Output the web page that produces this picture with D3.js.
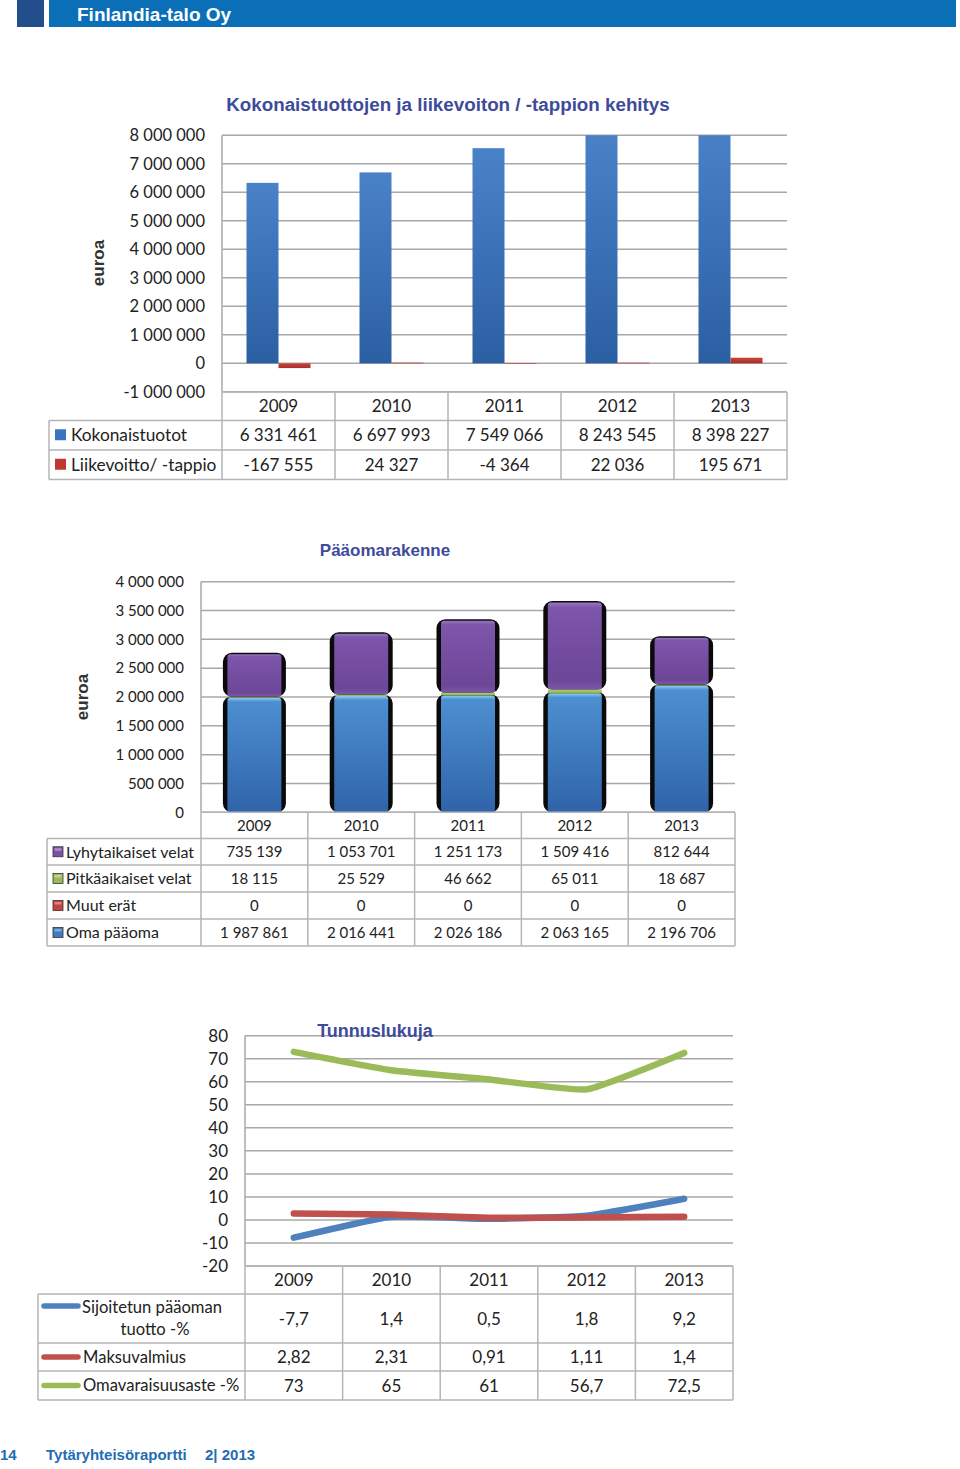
<!DOCTYPE html>
<html><head><meta charset="utf-8">
<script src="https://cdn.jsdelivr.net/npm/d3@7"></script>
<style>body{margin:0;background:#fff}svg{display:block}</style>
</head><body><svg id="c" width="960" height="1469"></svg>
<script>
// ---------- DATA ----------
const years = ["2009", "2010", "2011", "2012", "2013"];
// Chart 1
const kokonaistuotot = [6331461, 6697993, 7549066, 8243545, 8398227];
const liikevoitto = [-167555, 24327, -4364, 22036, 195671];
const ticks1 = [-1000000, 0, 1000000, 2000000, 3000000, 4000000, 5000000, 6000000, 7000000, 8000000];
// Chart 2
const lyhytaikaiset = [735139, 1053701, 1251173, 1509416, 812644];
const pitkaaikaiset = [18115, 25529, 46662, 65011, 18687];
const muutErat = [0, 0, 0, 0, 0];
const omaPaaoma = [1987861, 2016441, 2026186, 2063165, 2196706];
const ticks2 = [0, 500000, 1000000, 1500000, 2000000, 2500000, 3000000, 3500000, 4000000];
// Chart 3
const sijoitetun = [-7.7, 1.4, 0.5, 1.8, 9.2];
const maksuvalmius = [2.82, 2.31, 0.91, 1.11, 1.4];
const omavaraisuus = [73, 65, 61, 56.7, 72.5];
const ticks3 = [-20, -10, 0, 10, 20, 30, 40, 50, 60, 70, 80];

// ---------- SETUP ----------
const svg = d3.select("#c");
const loc = d3.formatLocale({decimal: ",", thousands: " ", grouping: [3], currency: ["", " €"], minus: "-"});
const fmtInt = loc.format(",d");
const fmtDec = v => String(v).replace(".", ",");
const FONT = "Lato, 'Open Sans', sans-serif";
const TFONT = "'Liberation Sans', Arial, sans-serif";
const GRID = "#a8a8a8", BORDER = "#b5b5b5", TXT = "#222";
const TITLE = "#3e4b9b";

const defs = svg.append("defs");
function vgrad(id, stops) {
  const g = defs.append("linearGradient").attr("id", id).attr("x1", 0).attr("y1", 0).attr("x2", 0).attr("y2", 1);
  stops.forEach(s => g.append("stop").attr("offset", s[0]).attr("stop-color", s[1]));
}
vgrad("gBlue1", [[0, "#4a82c8"], [1, "#2b5fa3"]]);
vgrad("gRed1", [[0, "#c8433a"], [1, "#a8302a"]]);
vgrad("gPurple", [[0, "#9676c0"], [0.06, "#7d55ab"], [0.9, "#6c4697"], [1, "#7b5aa6"]]);
vgrad("gBlue2", [[0, "#8fd0f4"], [0.035, "#4d8fd0"], [1, "#2f63aa"]]);
vgrad("gGreen", [[0, "#b4d36f"], [1, "#8aac48"]]);
vgrad("gRed2", [[0, "#d9534f"], [1, "#b13a35"]]);

// ---------- HEADER ----------
svg.append("rect").attr("x", 17).attr("y", 0).attr("width", 27).attr("height", 27).attr("fill", "#224e8b");
svg.append("rect").attr("x", 49).attr("y", 0).attr("width", 907).attr("height", 27).attr("fill", "#0b6fb8");
svg.append("text").attr("x", 77).attr("y", 21).attr("fill", "#fff").attr("font-family", TFONT)
  .attr("font-weight", "bold").attr("font-size", 19).text("Finlandia-talo Oy");

// ---------- FOOTER ----------
const foot = svg.append("g").attr("font-family", TFONT).attr("font-weight", "bold").attr("font-size", 15).attr("fill", "#1f6db3");
foot.append("text").attr("x", 0).attr("y", 1460).text("14");
foot.append("text").attr("x", 46).attr("y", 1460).text("Tytäryhteisöraportti");
foot.append("text").attr("x", 205).attr("y", 1460).text("2| 2013");

// ---------- helpers ----------
function grid(g, y, ticks, x0, x1, labelX, fs, fmt) {
  ticks.forEach(t => {
    g.append("line").attr("x1", x0).attr("x2", x1).attr("y1", y(t)).attr("y2", y(t))
      .attr("stroke", GRID).attr("stroke-width", 1.5);
    g.append("text").attr("x", labelX).attr("y", y(t)).attr("dy", "0.35em").attr("text-anchor", "end")
      .attr("font-family", FONT).attr("font-size", fs).attr("fill", TXT).text(fmt(t));
  });
  g.append("line").attr("x1", x0).attr("x2", x0).attr("y1", y(ticks[ticks.length - 1])).attr("y2", y(ticks[0]))
    .attr("stroke", GRID).attr("stroke-width", 1.5);
}
function table(g, x, leftX, rowLines, fs) {
  const x0 = x.range()[0], x1 = x.range()[1];
  const ln = (a, b, c, d) => g.append("line").attr("x1", a).attr("x2", b).attr("y1", c).attr("y2", d)
    .attr("stroke", BORDER).attr("stroke-width", 1.5);
  ln(x0, x1, rowLines[0], rowLines[0]);
  for (let i = 1; i < rowLines.length; i++) ln(leftX, x1, rowLines[i], rowLines[i]);
  ln(leftX, leftX, rowLines[1], rowLines[rowLines.length - 1]);
  x.domain().forEach(d => ln(x(d), x(d), rowLines[0], rowLines[rowLines.length - 1]));
  ln(x1, x1, rowLines[0], rowLines[rowLines.length - 1]);
  x.domain().forEach(d => g.append("text").attr("x", x(d) + x.bandwidth() / 2)
    .attr("y", (rowLines[0] + rowLines[1]) / 2).attr("dy", "0.36em").attr("text-anchor", "middle")
    .attr("font-family", FONT).attr("font-size", fs).attr("fill", TXT).text(d));
}
function rowValues(g, x, vals, yc, fs, fmt) {
  vals.forEach((v, i) => g.append("text").attr("x", x(years[i]) + x.bandwidth() / 2).attr("y", yc)
    .attr("dy", "0.36em").attr("text-anchor", "middle").attr("font-family", FONT).attr("font-size", fs)
    .attr("fill", TXT).text(fmt(v)));
}
function axisTitle(g, x, y) {
  g.append("text").attr("transform", `translate(${x},${y}) rotate(-90)`).attr("text-anchor", "middle")
    .attr("font-family", TFONT).attr("font-weight", "bold").attr("font-size", 17).attr("fill", "#333").text("euroa");
}
function chartTitle(g, x, y, t, fs) {
  g.append("text").attr("x", x).attr("y", y).attr("text-anchor", "middle").attr("font-family", TFONT)
    .attr("font-weight", "bold").attr("font-size", fs).attr("fill", TITLE).text(t);
}

// ---------- CHART 1 ----------
{
  const g = svg.append("g");
  const x = d3.scaleBand().domain(years).range([222, 787]);
  const y = d3.scaleLinear().domain([-1000000, 8000000]).range([391.8, 135.3]);
  grid(g, y, ticks1, 222, 787, 205, 16.5, fmtInt);
  defs.append("clipPath").attr("id", "clip1").append("rect")
    .attr("x", 222).attr("y", y(8000000)).attr("width", 565).attr("height", y(-1000000) - y(8000000));
  const bars = g.append("g").attr("clip-path", "url(#clip1)");
  const bw = 32;
  const series = [{vals: kokonaistuotot, fill: "url(#gBlue1)"}, {vals: liikevoitto, fill: "url(#gRed1)"}];
  const sub = d3.scaleBand().domain([0, 1]).range([0, bw * 2]);
  series.forEach((s, si) => {
    bars.selectAll(null).data(s.vals).enter().append("rect")
      .attr("x", (d, i) => x(years[i]) + x.bandwidth() / 2 - bw + sub(si))
      .attr("width", sub.bandwidth())
      .attr("y", d => Math.min(y(d), y(0)))
      .attr("height", d => Math.max(Math.abs(y(d) - y(0)), 0.6))
      .attr("fill", s.fill);
  });
  chartTitle(g, 448, 111, "Kokonaistuottojen ja liikevoiton / -tappion kehitys", 18.8);
  axisTitle(g, 104, 263);
  const rows = [392, 420.5, 450, 479.5];
  table(g, x, 49, rows, 17);
  const labels = [["Kokonaistuotot", "#3b74c0", kokonaistuotot], ["Liikevoitto/ -tappio", "#c0392f", liikevoitto]];
  labels.forEach((l, i) => {
    const yc = (rows[i + 1] + rows[i + 2]) / 2;
    g.append("rect").attr("x", 55).attr("y", yc - 6).attr("width", 11).attr("height", 11).attr("fill", l[1]);
    g.append("text").attr("x", 71).attr("y", yc).attr("dy", "0.36em").attr("font-family", FONT)
      .attr("font-size", 17.3).attr("fill", TXT).text(l[0]);
    rowValues(g, x, l[2], yc, 17, fmtInt);
  });
}

// ---------- CHART 2 ----------
{
  const g = svg.append("g");
  const x = d3.scaleBand().domain(years).range([201, 735]);
  const y = d3.scaleLinear().domain([0, 4000000]).range([812.3, 581.7]);
  grid(g, y, ticks2, 201, 735, 184, 15, fmtInt);
  const stack = [
    {vals: omaPaaoma, fill: "url(#gBlue2)"},
    {vals: muutErat, fill: "url(#gRed2)"},
    {vals: pitkaaikaiset, fill: "url(#gGreen)"},
    {vals: lyhytaikaiset, fill: "url(#gPurple)"}
  ];
  const bw = 63;
  years.forEach((yr, i) => {
    const cx = x(yr) + x.bandwidth() / 2;
    let base = 0;
    stack.forEach(s => {
      const v = s.vals[i];
      const y0 = y(base), y1 = y(base + v);
      base += v;
      const h = y0 - y1;
      if (h <= 0) return;
      if (h > 6) {
        g.append("rect").attr("x", cx - bw / 2).attr("y", y1 - 1.5).attr("width", bw).attr("height", h + 1.5)
          .attr("rx", 9).attr("ry", 9).attr("fill", "#0a0a0a");
        g.append("rect").attr("x", cx - bw / 2 + 4.5).attr("y", y1).attr("width", bw - 9).attr("height", h)
          .attr("rx", 3).attr("ry", 3).attr("fill", s.fill);
      } else {
        g.append("rect").attr("x", cx - bw / 2 + 4.5).attr("y", y1).attr("width", bw - 9).attr("height", h)
          .attr("fill", s.fill);
      }
    });
  });
  chartTitle(g, 385, 556, "Pääomarakenne", 17);
  axisTitle(g, 88, 697);
  const rows = [812.3, 838.5, 865, 892, 919, 946];
  table(g, x, 47, rows, 15);
  const labels = [
    ["Lyhytaikaiset velat", "#7a50a8", lyhytaikaiset],
    ["Pitkäaikaiset velat", "#9bbb59", pitkaaikaiset],
    ["Muut erät", "#c8423c", muutErat],
    ["Oma pääoma", "#3f7cc2", omaPaaoma]
  ];
  labels.forEach((l, i) => {
    const yc = (rows[i + 1] + rows[i + 2]) / 2;
    g.append("rect").attr("x", 53).attr("y", yc - 5).attr("width", 10).attr("height", 10)
      .attr("fill", l[1]).attr("stroke", "#333").attr("stroke-width", 0.8);
    g.append("rect").attr("x", 54.5).attr("y", yc - 3.5).attr("width", 7).attr("height", 2.5)
      .attr("fill", "#fff").attr("opacity", 0.35);
    g.append("text").attr("x", 66).attr("y", yc).attr("dy", "0.36em").attr("font-family", FONT)
      .attr("font-size", 16).attr("fill", TXT).text(l[0]);
    rowValues(g, x, l[2], yc, 15, fmtInt);
  });
}

// ---------- CHART 3 ----------
{
  const g = svg.append("g");
  const x = d3.scaleBand().domain(years).range([245, 733]);
  const y = d3.scaleLinear().domain([-20, 80]).range([1266, 1035.7]);
  grid(g, y, ticks3, 245, 733, 228, 17, d => String(d));
  const lineGen = d3.line().x((d, i) => x(years[i]) + x.bandwidth() / 2).y(d => y(d))
    .curve(d3.curveCardinal.tension(0.6));
  const series = [
    {vals: omavaraisuus, color: "#9bbb59"},
    {vals: sijoitetun, color: "#4f81bd"},
    {vals: maksuvalmius, color: "#c0504d"}
  ];
  series.forEach(s => g.append("path").attr("d", lineGen(s.vals)).attr("fill", "none")
    .attr("stroke", s.color).attr("stroke-width", 6.5).attr("stroke-linecap", "round").attr("stroke-linejoin", "round"));
  chartTitle(g, 375, 1037, "Tunnuslukuja", 18);
  const rows = [1266, 1294, 1343, 1371, 1400];
  table(g, x, 38, rows, 17);
  const labels = [
    [["Sijoitetun pääoman", "tuotto -%"], "#4f81bd", sijoitetun, 1306],
    [["Maksuvalmius"], "#c0504d", maksuvalmius, 1357],
    [["Omavaraisuusaste -%"], "#9bbb59", omavaraisuus, 1385.5]
  ];
  labels.forEach((l, i) => {
    const yc = (rows[i + 1] + rows[i + 2]) / 2;
    g.append("line").attr("x1", 44).attr("x2", 78).attr("y1", l[3]).attr("y2", l[3])
      .attr("stroke", l[1]).attr("stroke-width", 5.5).attr("stroke-linecap", "round");
    if (l[0].length === 1) {
      g.append("text").attr("x", 83).attr("y", yc).attr("dy", "0.36em").attr("font-family", FONT)
        .attr("font-size", 16.6).attr("fill", TXT).text(l[0][0]);
    } else {
      g.append("text").attr("x", 82).attr("y", 1307).attr("dy", "0.36em").attr("font-family", FONT)
        .attr("font-size", 16.6).attr("fill", TXT).text(l[0][0]);
      g.append("text").attr("x", 155).attr("y", 1329).attr("dy", "0.36em").attr("text-anchor", "middle")
        .attr("font-family", FONT).attr("font-size", 16.6).attr("fill", TXT).text(l[0][1]);
    }
    rowValues(g, x, l[2], yc, 17, fmtDec);
  });
}
</script></body></html>
